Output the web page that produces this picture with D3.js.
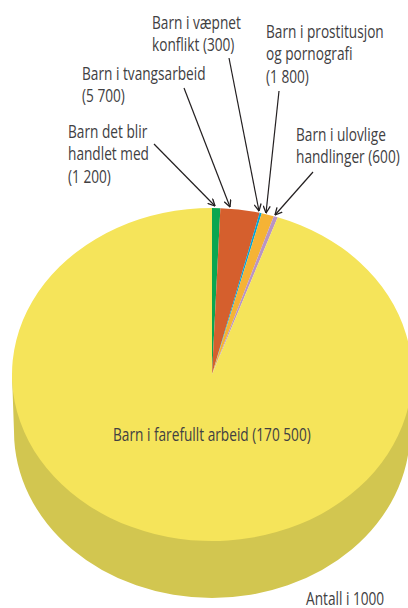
<!DOCTYPE html>
<meta charset="utf-8">
<style>
html, body { margin: 0; background: #fff; }
svg { display: block; }
text { font-family: "Open Sans", sans-serif; font-size: 18px; fill: #414042; }
</style>
<svg width="408" height="608"></svg>
<script src="https://d3js.org/d3.v7.min.js"></script>
<script>

var categories = ["Barn det blir handlet med", "Barn i tvangsarbeid", "Barn i væpnet konflikt",
                  "Barn i prostitusjon og pornografi", "Barn i ulovlige handlinger", "Barn i farefullt arbeid"];
var values = [1200, 5700, 300, 1800, 600, 170500];
var colors = ["#0aa650", "#d55f2d", "#00a3d8", "#f5b335", "#b994c4", "#f5e45a"];
var sideColor = "#d2c650";
var unitLabel = "Antall i 1000";

// label lines for each slice, same order as categories
var labelLines = [
  ["Barn det blir", "handlet med", "(1 200)"],
  ["Barn i tvangsarbeid", "(5 700)"],
  ["Barn i væpnet", "konflikt (300)"],
  ["Barn i prostitusjon", "og pornografi", "(1 800)"],
  ["Barn i ulovlige", "handlinger (600)"],
  ["Barn i farefullt arbeid (170 500)"]
];

var svg = d3.select("svg");

// pie geometry
var cx = 212, cy = 374.5, rx = 200, ry = 166.5, depth = 57;

// side of the disc
svg.append("path")
  .attr("fill", sideColor)
  .attr("d", "M" + (cx - rx) + "," + cy +
    "L" + (cx - rx + 2) + "," + (cy + depth) +
    "A" + (rx - 2) + "," + ry + " 0 0 0 " + (cx + rx - 2) + "," + (cy + depth) +
    "L" + (cx + rx) + "," + cy + "Z");

var pie = d3.pie().sort(null).value(function(d) { return d; });
var arc = d3.arc().innerRadius(0).outerRadius(rx);

svg.append("g")
  .attr("transform", "translate(" + cx + "," + cy + ") scale(1," + (ry / rx) + ")")
  .selectAll("path")
  .data(pie(values))
  .enter().append("path")
    .attr("d", arc)
    .attr("fill", function(d, i) { return colors[i]; });

// no condensed font installed, so squeeze Open Sans sideways
var squeeze = 0.76;

function addText(x, y, lines) {
  var t = svg.append("text")
    .attr("transform", "translate(" + x + "," + y + ") scale(" + squeeze + ",1)");
  lines.forEach(function(s, j) {
    t.append("tspan")
      .attr("x", 0)
      .attr("y", j * lineHeight)
      .text(s);
  });
}

// labels: x, first baseline
var labelPos = [[68, 138], [82, 80], [152, 29], [266, 38], [296, 141], [113, 441]];
var lineHeight = 22.3;

labelLines.forEach(function(lines, i) {
  addText(labelPos[i][0], labelPos[i][1], lines);
});
addText(306, 605, [unitLabel]);

// leader arrows
var leaders = [
  [[154, 144], [215, 206]],
  [[184, 88], [230, 207]],
  [[229, 58], [259, 211]],
  [[279, 91], [266, 213]],
  [[313, 172], [275, 215]]
];

svg.append("defs").append("marker")
    .attr("id", "arrow")
    .attr("viewBox", "0 0 8 8")
    .attr("refX", 7.5).attr("refY", 4)
    .attr("markerUnits", "userSpaceOnUse")
    .attr("markerWidth", 8).attr("markerHeight", 8)
    .attr("orient", "auto")
  .append("path")
    .attr("d", "M0.5,0.5L7.5,4L0.5,7.5")
    .attr("fill", "none")
    .attr("stroke", "#231f20")
    .attr("stroke-width", 1.3);

svg.append("g").selectAll("line")
  .data(leaders)
  .enter().append("line")
    .attr("x1", function(d) { return d[0][0]; })
    .attr("y1", function(d) { return d[0][1]; })
    .attr("x2", function(d) { return d[1][0]; })
    .attr("y2", function(d) { return d[1][1]; })
    .attr("stroke", "#231f20")
    .attr("stroke-width", 1.2)
    .attr("marker-end", "url(#arrow)");

</script>
